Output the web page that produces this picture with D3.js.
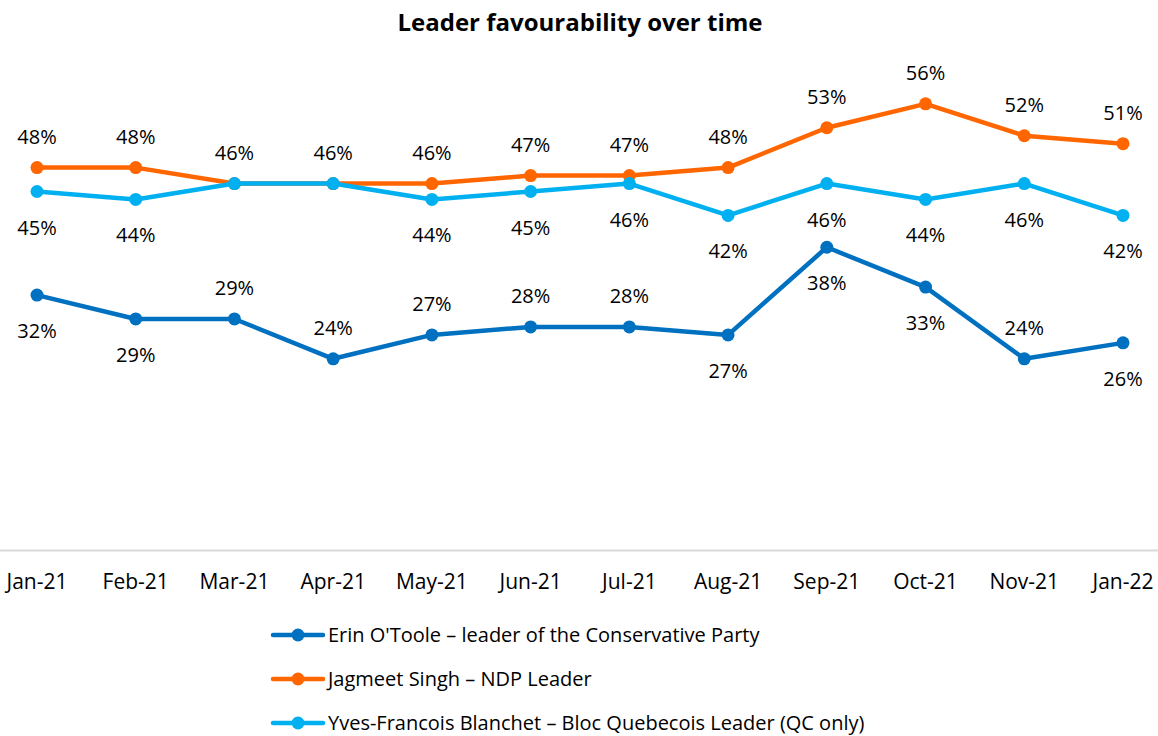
<!DOCTYPE html>
<html>
<head>
<meta charset="utf-8">
<script src="https://cdn.jsdelivr.net/npm/d3@7"></script>
<style>
body { margin: 0; background: #fff; }
text { font-family: 'Open Sans', sans-serif; fill: #000; }
</style>
</head>
<body>
<svg id="chart" width="1158" height="736"></svg>
<script>
var months = ['Jan-21', 'Feb-21', 'Mar-21', 'Apr-21', 'May-21', 'Jun-21',
              'Jul-21', 'Aug-21', 'Sep-21', 'Oct-21', 'Nov-21', 'Jan-22'];

var otoole   = [32, 29, 29, 24, 27, 28, 28, 27, 38, 33, 24, 26];
var singh    = [48, 48, 46, 46, 46, 47, 47, 48, 53, 56, 52, 51];
var blanchet = [45, 44, 46, 46, 44, 45, 46, 42, 46, 44, 46, 42];

// where each data label sits: 'a' above, 'b' below, null hidden
var otooleLabels   = ['b', 'b', 'a', 'a', 'a', 'a', 'a', 'b', 'b', 'b', 'a', 'b'];
var singhLabels    = ['a', 'a', 'a', 'a', 'a', 'a', 'a', 'a', 'a', 'a', 'a', 'a'];
var blanchetLabels = ['b', 'b', null, null, 'b', 'b', 'b', 'b', 'b', 'b', 'b', 'b'];

var seriesNames = ["Erin O'Toole \u2013 leader of the Conservative Party",
                   'Jagmeet Singh \u2013 NDP Leader',
                   'Yves-Francois Blanchet \u2013 Bloc Quebecois Leader (QC only)'];
var seriesColors = ['#0070C0', '#FF6600', '#00B0F0'];

var series = [
	{ name: seriesNames[0], color: seriesColors[0], values: otoole, labels: otooleLabels },
	{ name: seriesNames[1], color: seriesColors[1], values: singh, labels: singhLabels },
	{ name: seriesNames[2], color: seriesColors[2], values: blanchet, labels: blanchetLabels }
];

var svg = d3.select('#chart');

var x = d3.scalePoint()
	.domain(months)
	.range([37, 1123]);

var y = d3.scaleLinear()
	.domain([0, 60])
	.range([550, 72]);

svg.append('text')
	.attr('x', 580)
	.attr('y', 31)
	.attr('text-anchor', 'middle')
	.style('font-size', '24px')
	.style('font-weight', 'bold')
	.text('Leader favourability over time');

// x axis
svg.append('line')
	.attr('x1', 0)
	.attr('x2', 1158)
	.attr('y1', 550.5)
	.attr('y2', 550.5)
	.attr('stroke', '#d9d9d9')
	.attr('stroke-width', 2);

svg.append('g')
	.selectAll('text')
	.data(months)
	.enter()
	.append('text')
		.attr('x', function(d) { return x(d); })
		.attr('y', 589)
		.attr('text-anchor', 'middle')
		.style('font-size', '21px')
		.text(function(d) { return d; });

var line = d3.line()
	.x(function(d, i) { return x(months[i]); })
	.y(function(d) { return y(d); });

for(s of series)
{
	var g = svg.append('g');

	g.append('path')
		.datum(s.values)
		.attr('d', line)
		.attr('fill', 'none')
		.attr('stroke', s.color)
		.attr('stroke-width', 4.5)
		.attr('stroke-linejoin', 'round');

	g.selectAll('circle')
		.data(s.values)
		.enter()
		.append('circle')
			.attr('cx', function(d, i) { return x(months[i]); })
			.attr('cy', function(d) { return y(d); })
			.attr('r', 6.5)
			.attr('fill', s.color);
}

for(s of series)
{
	var pts = s.values.map(function(v, i) { return { v: v, m: months[i], side: s.labels[i] }; })
		.filter(function(p) { return p.side != null; });

	svg.append('g')
		.selectAll('text')
		.data(pts)
		.enter()
		.append('text')
			.attr('x', function(d) { return x(d.m); })
			.attr('y', function(d) { return d.side == 'a' ? y(d.v) - 24 : y(d.v) + 43; })
			.attr('text-anchor', 'middle')
			.style('font-size', '20px')
			.text(function(d) { return d.v + '%'; });
}

// legend
var legend = svg.append('g')
	.selectAll('g')
	.data(series)
	.enter()
	.append('g')
		.attr('transform', function(d, i) { return 'translate(0,' + (635 + i * 44) + ')'; });

legend.append('line')
	.attr('x1', 273)
	.attr('x2', 323)
	.attr('stroke', function(d) { return d.color; })
	.attr('stroke-width', 4.5)
	.attr('stroke-linecap', 'round');

legend.append('circle')
	.attr('cx', 298)
	.attr('r', 6.5)
	.attr('fill', function(d) { return d.color; });

legend.append('text')
	.attr('x', 328)
	.attr('y', 7)
	.style('font-size', '20px')
	.text(function(d) { return d.name; });
</script>
</body>
</html>
